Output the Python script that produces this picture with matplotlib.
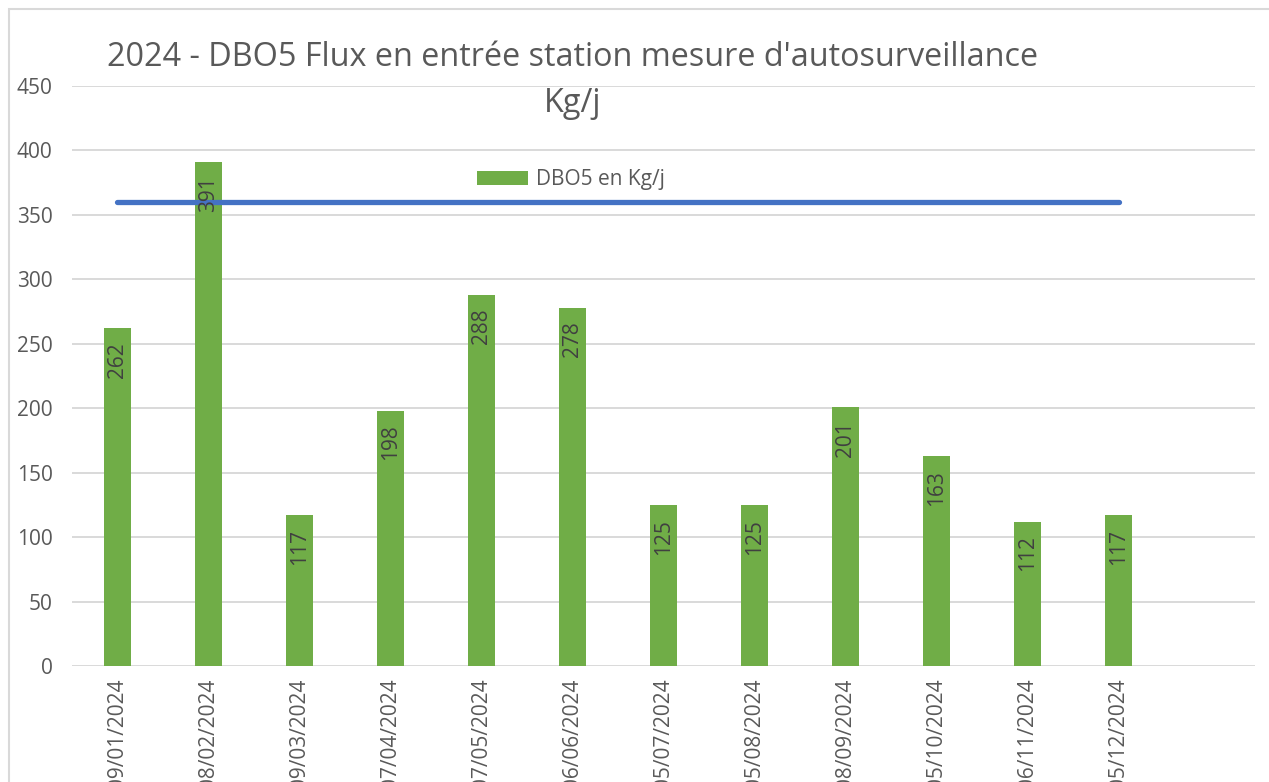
import matplotlib.pyplot as plt
from matplotlib.patches import Rectangle

plt.rcParams['font.family'] = ['Open Sans', 'DejaVu Sans']

# dates de prelevement
dates = ['09/01/2024', '08/02/2024', '09/03/2024', '07/04/2024', '07/05/2024', '06/06/2024',
         '05/07/2024', '05/08/2024', '08/09/2024', '05/10/2024', '06/11/2024', '05/12/2024']
# DBO5 en Kg/j
dbo5 = [262, 391, 117, 198, 288, 278, 125, 125, 201, 163, 112, 117]
# limite (trait bleu)
limite = [360] * len(dates)

txt = '#595959'

fig = plt.figure(figsize=(12.69, 7.82), dpi=100)
ax = fig.add_axes([0.0567, 0.1483, 0.9323, 0.7417])

# cadre du graphique
fig.patches.append(Rectangle((9 / 1269, -0.1), 1.2, 1 - 9 / 782 + 0.1, transform=fig.transFigure,
                             fill=False, edgecolor='#d9d9d9', linewidth=1.5, zorder=0))

x = list(range(len(dates)))
bars = ax.bar(x, dbo5, width=0.3, color='#70AD47', label='DBO5 en Kg/j', zorder=2)
ax.plot(x, limite, color='#4472C4', linewidth=3.8, solid_capstyle='round', zorder=3)

for xi, v in zip(x, dbo5):
    ax.annotate(str(v), (xi, v), xytext=(0, -10), textcoords='offset points',
                rotation=90, ha='center', va='top', fontsize=15, color='#404040', zorder=4)

ax.set_xlim(-0.5, 12.5)
ax.set_ylim(0, 450)
ax.set_yticks(range(0, 451, 50))
ax.set_xticks(x)
ax.set_xticklabels(dates, rotation=90, va='top')
ax.tick_params(axis='both', length=0, labelsize=15, labelcolor=txt)
ax.tick_params(axis='y', pad=14)
ax.tick_params(axis='x', pad=9)
ax.grid(axis='y', color='#d9d9d9', linewidth=1.4, zorder=0)
ax.set_axisbelow(True)
for s in ax.spines.values():
    s.set_visible(False)

fig.text(573 / 1269, 1 - 57 / 782, "2024 - DBO5 Flux en entrée station mesure d'autosurveillance",
         ha='center', va='center', fontsize=23.3, color=txt)
fig.text(573 / 1269, 1 - 103 / 782, 'Kg/j', ha='center', va='center', fontsize=23.3, color=txt)

leg = ax.legend(loc='center', bbox_to_anchor=(571 / 1269, 1 - 180 / 782), bbox_transform=fig.transFigure,
                frameon=False, fontsize=15, handlelength=2.45, handleheight=0.67, handletextpad=0.4)
for t in leg.get_texts():
    t.set_color(txt)

fig.savefig('out.png', dpi=100)
